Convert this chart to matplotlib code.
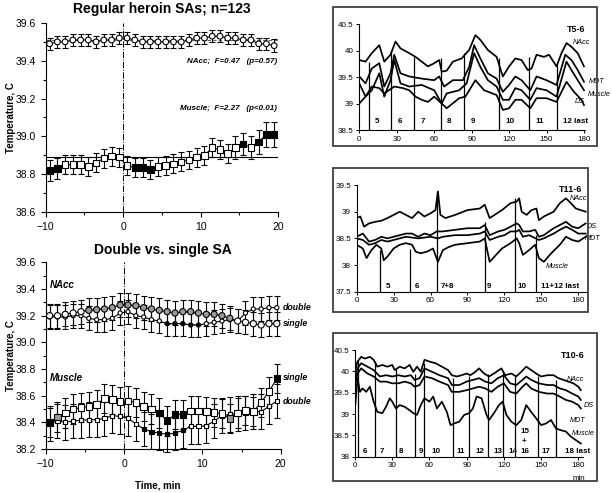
import matplotlib
matplotlib.use('Agg')
import matplotlib.pyplot as plt
from matplotlib.patches import Rectangle
import numpy as np

plt.rcParams['font.family'] = 'sans-serif'
plt.rcParams['font.sans-serif'] = ['Liberation Sans', 'DejaVu Sans']

# ---------------- left panels: mean +/- SEM around each SA ----------------
t_min = np.arange(-9.5, 20.0, 1.0)

# Regular heroin SAs; n=123
top_nacc = [39.49, 39.50, 39.50, 39.51, 39.51, 39.51, 39.50, 39.51, 39.51, 39.52,
            39.52, 39.51, 39.50, 39.50, 39.50, 39.50, 39.50, 39.50, 39.51, 39.52,
            39.52, 39.53, 39.53, 39.52, 39.52, 39.51, 39.51, 39.49, 39.49, 39.48]
top_nacc_err = 0.033
top_muscle = [38.82, 38.83, 38.85, 38.85, 38.85, 38.84, 38.86, 38.885, 38.895, 38.89,
              38.845, 38.835, 38.835, 38.825, 38.84, 38.845, 38.855, 38.865, 38.875, 38.89,
              38.90, 38.94, 38.93, 38.91, 38.94, 38.96, 38.94, 38.97, 39.01, 39.01]
top_muscle_err = [0.055, 0.055, 0.05, 0.05, 0.05, 0.05, 0.05, 0.05, 0.05, 0.05,
                  0.05, 0.05, 0.05, 0.05, 0.05, 0.05, 0.05, 0.05, 0.05, 0.05,
                  0.05, 0.05, 0.05, 0.05, 0.06, 0.06, 0.06, 0.065, 0.065, 0.065]
top_muscle_sig = [1, 1, 0, 0, 0, 0, 0, 0, 0, 0, 0, 1, 1, 1, 0,
                  0, 0, 0, 0, 0, 0, 0, 0, 0, 0, 1, 0, 1, 1, 1]
base_nacc = 39.51
base_muscle = 38.89

# Double vs. single SA  (0 = open, 1 = black, 2 = grey)
nacc_single = [39.20, 39.20, 39.21, 39.22, 39.23, 39.24, 39.245, 39.25, 39.26, 39.28,
               39.28, 39.275, 39.26, 39.25, 39.24, 39.23, 39.22, 39.23, 39.23, 39.22,
               39.21, 39.21, 39.20, 39.18, 39.16, 39.15, 39.14, 39.13, 39.14, 39.14]
nacc_single_sig = [0, 0, 0, 0, 0, 2, 2, 2, 2, 2, 2, 2, 2, 2, 2,
                   2, 2, 2, 2, 2, 2, 2, 2, 2, 0, 0, 0, 0, 0, 0]
nacc_double = [39.19, 39.19, 39.19, 39.20, 39.20, 39.18, 39.17, 39.17, 39.18, 39.22,
               39.23, 39.20, 39.19, 39.17, 39.16, 39.14, 39.14, 39.14, 39.13, 39.13,
               39.14, 39.15, 39.16, 39.17, 39.16, 39.22, 39.25, 39.25, 39.26, 39.26]
nacc_double_sig = [0, 0, 0, 0, 0, 0, 0, 0, 0, 0, 0, 0, 0, 0, 0,
                   1, 1, 1, 1, 1, 0, 0, 0, 0, 0, 0, 0, 0, 0, 0]
muscle_single = [38.40, 38.44, 38.47, 38.50, 38.51, 38.52, 38.535, 38.58, 38.57, 38.555,
                 38.56, 38.55, 38.52, 38.50, 38.47, 38.41, 38.46, 38.46, 38.485, 38.485,
                 38.48, 38.475, 38.465, 38.43, 38.47, 38.49, 38.48, 38.55, 38.63, 38.73]
muscle_single_sig = [1, 2, 0, 0, 0, 0, 0, 0, 0, 0, 0, 0, 0, 0, 1,
                     1, 1, 1, 0, 0, 0, 0, 0, 2, 0, 0, 0, 0, 0, 1]
muscle_double = [38.39, 38.41, 38.40, 38.41, 38.415, 38.42, 38.42, 38.43, 38.45, 38.445,
                 38.43, 38.39, 38.35, 38.33, 38.32, 38.31, 38.32, 38.34, 38.37, 38.37,
                 38.375, 38.41, 38.45, 38.46, 38.465, 38.47, 38.48, 38.48, 38.52, 38.56]
muscle_double_sig = [0, 0, 0, 0, 0, 0, 0, 0, 0, 0, 0, 0, 1, 1, 1,
                     1, 1, 1, 0, 0, 0, 0, 0, 0, 0, 0, 0, 0, 0, 0]
nacc_err = 0.09
muscle_single_err = 0.11
muscle_double_err = 0.13

# ---------------- right panels: individual rats ----------------
t5_nacc_t = [0, 5, 10, 16, 20, 25, 29, 33, 40, 45, 50, 55, 60, 64, 66, 70, 75, 82, 88, 93,
             97, 103, 110, 115, 120, 125, 130, 135, 138, 142, 148, 152, 158, 162, 166, 170, 175, 180]
t5_nacc_v = [39.82, 39.79, 39.95, 40.10, 39.79, 39.92, 40.17, 40.04, 39.95, 39.88, 39.79, 39.70,
             39.76, 39.82, 39.60, 39.62, 39.79, 39.85, 40.01, 40.29, 40.20, 40.01, 39.88, 39.51,
             39.70, 39.85, 39.82, 39.63, 39.66, 39.92, 39.88, 39.92, 39.70, 39.95, 40.14, 40.07,
             39.95, 39.70]
t5_mdt_t = [0, 5, 10, 16, 20, 25, 28, 33, 40, 50, 60, 64, 68, 75, 83, 88, 92, 97, 103, 110,
            115, 120, 125, 130, 137, 142, 150, 158, 165, 170, 175, 180]
t5_mdt_v = [39.51, 39.38, 39.66, 39.76, 39.32, 39.57, 39.92, 39.57, 39.51, 39.47, 39.44, 39.51,
            39.32, 39.44, 39.44, 39.69, 40.10, 39.85, 39.57, 39.47, 39.22, 39.35, 39.51, 39.44,
            39.25, 39.51, 39.44, 39.35, 39.92, 39.82, 39.63, 39.41]
t5_mus_t = [0, 5, 10, 16, 20, 25, 28, 33, 40, 50, 60, 66, 70, 80, 86, 92, 97, 103, 110, 115,
            120, 125, 130, 137, 142, 150, 158, 166, 170, 175, 180]
t5_mus_v = [39.38, 39.13, 39.25, 39.57, 39.13, 39.44, 39.82, 39.38, 39.32, 39.35, 39.25, 39.00,
            39.19, 39.25, 39.38, 39.95, 39.69, 39.44, 39.32, 39.07, 39.07, 39.29, 39.25, 39.07,
            39.29, 39.25, 39.13, 39.79, 39.63, 39.44, 39.25]
t5_ds_t = [0, 5, 10, 16, 20, 28, 35, 40, 45, 50, 55, 60, 66, 70, 80, 85, 93, 100, 110, 115,
           120, 125, 130, 137, 142, 150, 158, 166, 172, 178, 180]
t5_ds_v = [39.00, 39.13, 39.32, 39.29, 39.19, 39.32, 39.29, 39.25, 39.13, 39.07, 39.03, 39.13,
           39.00, 38.91, 39.10, 39.13, 39.44, 39.25, 39.16, 38.88, 38.91, 39.07, 39.07, 38.91,
           39.10, 39.10, 39.03, 39.41, 39.22, 39.07, 38.97]
t5_inj_t = [8, 25.4, 44, 65.4, 84, 112, 136, 158]
t5_inj_top = [39.79, 40.0, 39.88, 39.85, 39.95, 39.85, 39.88, 39.75]
t5_lab_t = [12.5, 30.5, 49, 70, 89, 117, 141, 163]
t5_labels = ['5', '6', '7', '8', '9', '10', '11', '12 last']

t11_nacc_t = [0, 3, 6, 10, 15, 20, 25, 30, 35, 40, 45, 50, 55, 60, 64, 66, 68, 72, 80, 90, 100,
              104, 108, 112, 118, 125, 130, 132, 134, 138, 142, 146, 148, 152, 160, 165, 170,
              174, 178, 182, 186]
t11_nacc_v = [38.88, 38.91, 38.72, 38.78, 38.81, 38.83, 38.88, 38.94, 39.00, 38.94, 38.88, 39.00,
              38.91, 38.97, 39.03, 39.38, 38.94, 38.88, 38.94, 39.03, 39.06, 39.13, 38.88, 38.94,
              39.03, 39.16, 39.19, 39.25, 39.00, 38.94, 39.03, 39.06, 38.84, 38.91, 39.00, 39.16,
              39.25, 39.16, 39.06, 39.03, 39.00]
t11_ds_t = [0, 5, 10, 15, 20, 25, 30, 35, 40, 45, 50, 55, 60, 65, 70, 80, 90, 100, 104, 108, 115,
            120, 125, 130, 132, 135, 140, 145, 148, 152, 160, 165, 170, 175, 180, 186]
t11_ds_v = [38.53, 38.59, 38.44, 38.47, 38.53, 38.50, 38.53, 38.56, 38.59, 38.59, 38.53, 38.59,
            38.56, 38.63, 38.63, 38.66, 38.69, 38.69, 38.75, 38.56, 38.63, 38.66, 38.72, 38.78,
            38.75, 38.63, 38.63, 38.66, 38.53, 38.56, 38.69, 38.75, 38.81, 38.72, 38.69, 38.78]
t11_mdt_t = [0, 5, 10, 15, 20, 25, 30, 40, 50, 60, 66, 70, 80, 90, 100, 104, 108, 115, 120, 125,
             130, 132, 135, 140, 148, 152, 160, 165, 170, 175, 180, 186]
t11_mdt_v = [38.50, 38.47, 38.38, 38.41, 38.47, 38.44, 38.47, 38.53, 38.50, 38.53, 38.50, 38.53,
             38.56, 38.56, 38.59, 38.63, 38.47, 38.53, 38.56, 38.63, 38.63, 38.66, 38.53, 38.56,
             38.47, 38.50, 38.59, 38.66, 38.72, 38.66, 38.59, 38.59]
t11_mus_t = [0, 5, 8, 12, 16, 20, 22, 25, 30, 35, 40, 45, 48, 52, 57, 62, 66, 70, 75, 80, 90, 100,
             104, 108, 112, 118, 125, 130, 132, 135, 140, 145, 148, 152, 158, 165, 170, 175, 180, 186]
t11_mus_v = [38.38, 38.31, 38.13, 38.28, 38.38, 38.31, 38.09, 38.16, 38.31, 38.38, 38.41, 38.38,
             38.25, 38.22, 38.25, 38.31, 38.06, 38.28, 38.34, 38.38, 38.41, 38.44, 38.50, 38.06,
             38.16, 38.31, 38.41, 38.50, 38.41, 38.19, 38.28, 38.38, 38.13, 38.06, 38.22, 38.38,
             38.53, 38.47, 38.44, 38.53]
t11_inj_t = [19, 43.3, 65.5, 104, 129, 146]
t11_inj_top = [38.28, 38.31, 39.37, 38.81, 39.25, 38.56]
t11_lab_t = [24, 47, 68, 105.6, 131, 150]
t11_labels = ['5', '6', '7+8', '9', '10', '11+12 last']

t10_nacc_t = [0, 2, 5, 8, 12, 15, 18, 22, 26, 30, 32, 36, 40, 44, 47, 50, 53, 56, 60, 65, 70, 75,
              78, 82, 86, 90, 93, 97, 100, 104, 108, 112, 118, 121, 126, 130, 134, 138, 142, 146,
              150, 155, 160, 164, 168, 172, 176, 180, 182]
t10_nacc_v = [39.99, 40.23, 40.34, 40.30, 40.34, 40.27, 40.11, 40.15, 40.11, 40.15, 40.03, 40.11,
              40.07, 40.15, 39.99, 40.11, 39.99, 40.27, 40.23, 40.19, 40.11, 40.03, 39.91, 39.88,
              39.91, 39.95, 39.91, 39.99, 40.07, 39.95, 39.88, 39.95, 40.07, 39.91, 39.95, 39.88,
              39.99, 40.11, 40.03, 39.95, 39.88, 39.91, 39.91, 39.84, 39.80, 39.76, 39.72, 39.64,
              39.56]
t10_ds_t = [0, 2, 5, 10, 15, 20, 25, 30, 35, 40, 45, 48, 52, 56, 62, 68, 75, 78, 84, 90, 95, 100,
            105, 110, 115, 120, 125, 130, 135, 138, 142, 148, 155, 160, 165, 170, 175, 180, 182]
t10_ds_v = [39.84, 40.07, 40.19, 40.11, 40.03, 39.88, 39.91, 39.88, 39.91, 39.88, 39.91, 39.80,
            39.84, 40.07, 39.99, 39.91, 39.84, 39.68, 39.68, 39.76, 39.80, 39.84, 39.76, 39.72,
            39.84, 39.91, 39.72, 39.68, 39.80, 39.88, 39.80, 39.72, 39.68, 39.68, 39.60, 39.56,
            39.48, 39.41, 39.33]
t10_mdt_t = t10_ds_t
t10_mdt_v = [39.68, 39.95, 40.07, 39.95, 39.88, 39.76, 39.76, 39.72, 39.72, 39.76, 39.72, 39.64,
             39.68, 39.88, 39.84, 39.76, 39.68, 39.52, 39.52, 39.56, 39.60, 39.64, 39.60, 39.52,
             39.64, 39.72, 39.52, 39.48, 39.64, 39.72, 39.60, 39.52, 39.48, 39.48, 39.41, 39.33,
             39.29, 39.21, 39.13]
t10_mus_t = [0, 2, 4, 6, 9, 12, 15, 18, 22, 25, 28, 30, 33, 36, 40, 44, 47, 50, 53, 56, 60, 63,
             66, 70, 74, 77, 80, 84, 88, 92, 95, 98, 102, 106, 108, 112, 116, 119, 122, 126, 130,
             134, 138, 142, 146, 150, 154, 158, 162, 166, 170, 174, 178, 182]
t10_mus_v = [39.13, 39.84, 39.52, 39.60, 39.52, 39.64, 39.29, 39.05, 39.02, 39.17, 39.37, 39.29,
             39.13, 39.21, 39.17, 39.09, 39.02, 38.98, 39.21, 39.37, 39.29, 39.41, 39.13, 39.29,
             39.05, 38.74, 38.78, 38.82, 38.98, 39.02, 39.13, 39.41, 39.37, 38.98, 38.86, 39.02,
             39.21, 39.29, 38.98, 38.82, 38.74, 38.86, 39.21, 39.05, 38.90, 38.74, 38.78, 38.86,
             38.66, 38.62, 38.59, 38.47, 38.39, 38.31]
t10_inj_t = [2.7, 16.1, 32.8, 48.4, 55.6, 78.7, 92.2, 107.5, 119.6, 129, 147.8, 161.7]
t10_inj_top = [40.25, 40.25, 40.05, 39.95, 40.2, 39.85, 39.9, 39.95, 40.0, 39.9, 39.9, 39.8]
t10_lab_t = [5.9, 19.6, 35, 51, 61.8, 82, 97, 111.5, 123.6, 133, 150, 169]
t10_labels = ['6', '7', '8', '9', '10', '11', '12', '13', '14', '16', '17', '18 last']

fig = plt.figure(figsize=(6.12, 4.93), dpi=100)

facecol = {0: 'white', 1: 'black', 2: '0.6'}


def style_left(ax, ylo, yhi):
    ax.spines['top'].set_visible(False)
    ax.spines['right'].set_visible(False)
    ax.set_xlim(-10, 20)
    ax.set_ylim(ylo, yhi)
    ax.set_xticks([-10, 0, 10, 20])
    ax.set_xticks([-5, 5, 15], minor=True)
    ax.set_yticks(np.arange(ylo, yhi + 0.01, 0.2))
    ax.set_yticks(np.arange(ylo + 0.1, yhi, 0.2), minor=True)
    ax.yaxis.set_major_formatter(matplotlib.ticker.FormatStrFormatter('%.1f'))
    ax.tick_params(which='major', labelsize=7.5, length=3.5, width=0.8)
    ax.tick_params(which='minor', length=2, width=0.8)
    ax.axvline(0, color='k', lw=0.7, ls='-.')
    ax.set_ylabel('Temperature, C', fontsize=7, fontweight='bold')
    ax.yaxis.set_label_coords(-0.128, 0.5)


def series(ax, y, err, sig, marker, size):
    ax.errorbar(t_min, y, yerr=err, fmt='none', ecolor='k', elinewidth=0.8,
                capsize=2, capthick=0.8, clip_on=False, zorder=2)
    ax.plot(t_min, y, 'k-', lw=0.8, zorder=3, clip_on=False)
    ax.scatter(t_min, y, s=size, marker=marker, c=[facecol[s] for s in sig],
               edgecolors='k', linewidths=0.8, zorder=4, clip_on=False)


# plot 1: regular SAs
ax1 = fig.add_axes([0.0747, 0.570, 0.3796, 0.3834])
style_left(ax1, 38.6, 39.6)
ax1.plot([-10, 20], [base_nacc, base_nacc], color='0.4', lw=0.8, ls=(0, (3, 2)))
ax1.plot([-10, 20], [base_muscle, base_muscle], color='k', lw=0.8)
series(ax1, top_nacc, top_nacc_err, [0] * len(top_nacc), 'o', 17)
series(ax1, top_muscle, top_muscle_err, top_muscle_sig, 's', 22)
ax1.set_title('Regular heroin SAs; n=123', fontsize=10, fontweight='bold', pad=7)
ax1.text(19.9, 39.397, 'NAcc;  F=0.47   (p=0.57)', ha='right', va='center',
         fontsize=5.8, fontweight='bold', style='italic')
ax1.text(19.9, 39.145, 'Muscle;  F=2.27   (p<0.01)', ha='right', va='center',
         fontsize=5.8, fontweight='bold', style='italic')

# plot 2: double vs single
ax2 = fig.add_axes([0.0747, 0.0892, 0.384, 0.3787])
style_left(ax2, 38.2, 39.6)
series(ax2, nacc_double, nacc_err, nacc_double_sig, 'o', 9)
series(ax2, nacc_single, nacc_err, nacc_single_sig, 'o', 20)
series(ax2, muscle_double, muscle_double_err, muscle_double_sig, 's', 9)
series(ax2, muscle_single, muscle_single_err, muscle_single_sig, 's', 22)
ax2.set_title('Double vs. single SA', fontsize=10, fontweight='bold', pad=6)
fig.text(0.258, 1 - 485.0 / 493, 'Time, min', fontsize=7, fontweight='bold',
         ha='center', va='center')
ax2.text(-9.45, 39.43, 'NAcc', fontsize=7, fontweight='bold', style='italic', va='center')
ax2.text(-9.5, 38.735, 'Muscle', fontsize=7, fontweight='bold', style='italic', va='center')
for yy, lab in [(39.26, 'double'), (39.14, 'single'), (38.74, 'single'), (38.555, 'double')]:
    ax2.text(20.3, yy, lab, fontsize=6.3, fontweight='bold', style='italic', va='center')


def trace_panel(rect, frame, ylo, yhi, xhi, traces, inj_t, inj_top, lab_t, labels, lab_y,
                title, title_x, title_y):
    ax = fig.add_axes(rect)
    fig.patches.append(Rectangle(frame[:2], frame[2], frame[3], transform=fig.transFigure,
                                 fill=False, edgecolor='0.25', lw=1.3))
    ax.spines['top'].set_visible(False)
    ax.spines['right'].set_visible(False)
    ax.set_xlim(0, xhi)
    ax.set_ylim(ylo, yhi)
    ax.set_xticks(np.arange(0, 181, 30))
    ax.set_yticks(np.arange(ylo, yhi + 0.01, 0.5))
    ax.yaxis.set_major_formatter(matplotlib.ticker.FormatStrFormatter('%g'))
    ax.tick_params(labelsize=5.8, length=2, width=0.7, pad=2)
    for tt, vv in traces:
        ax.plot(tt, vv, 'k-', lw=1.25)
    ax.vlines(inj_t, ylo, inj_top, colors='k', lw=0.9)
    for tt, lab in zip(lab_t, labels):
        ax.text(tt, lab_y, lab, fontsize=5.8, fontweight='bold', ha='left', va='center')
    ax.text(title_x, title_y, title, fontsize=6.5, fontweight='bold', ha='right', va='center',
            clip_on=False)
    return ax


ax3 = trace_panel([0.5871, 0.7363, 0.3671 * 181 / 180, 0.2150], [0.544, 0.704, 0.431, 0.282],
                  38.5, 40.5, 181,
                  [(t5_nacc_t, t5_nacc_v), (t5_mdt_t, t5_mdt_v), (t5_mus_t, t5_mus_v), (t5_ds_t, t5_ds_v)],
                  t5_inj_t, t5_inj_top, t5_lab_t, t5_labels, 38.66, 'T5-6', 181, 40.4)
ax3.text(171, 40.15, 'NAcc', fontsize=5.2, style='italic', va='center')
ax3.text(184, 39.41, 'MDT', fontsize=5.2, style='italic', va='center')
ax3.text(183, 39.17, 'Muscle', fontsize=5.2, style='italic', va='center')
ax3.text(173, 39.03, 'DS', fontsize=5.2, style='italic', va='center')

ax4 = trace_panel([0.5828, 0.4083, 0.3762, 0.2164], [0.544, 0.367, 0.417, 0.292],
                  37.5, 39.5, 187,
                  [(t11_nacc_t, t11_nacc_v), (t11_ds_t, t11_ds_v), (t11_mdt_t, t11_mdt_v), (t11_mus_t, t11_mus_v)],
                  t11_inj_t, t11_inj_top, t11_lab_t, t11_labels, 37.6, 'T11-6', 183, 39.42)
ax4.text(172.7, 39.25, 'NAcc', fontsize=5.2, style='italic', va='center')
ax4.text(186.8, 38.73, 'DS', fontsize=5.2, style='italic', va='center')
ax4.text(185.4, 38.49, 'MDT', fontsize=5.2, style='italic', va='center')
ax4.text(154, 37.97, 'Muscle', fontsize=5.2, style='italic', va='center')

ax5 = trace_panel([0.5801, 0.0736, 0.373, 0.2164], [0.544, 0.024, 0.431, 0.300],
                  38.0, 40.5, 184,
                  [(t10_nacc_t, t10_nacc_v), (t10_ds_t, t10_ds_v), (t10_mdt_t, t10_mdt_v), (t10_mus_t, t10_mus_v)],
                  t10_inj_t, t10_inj_top, t10_lab_t, t10_labels, 38.12, 'T10-6', 185, 40.37)
ax5.text(133, 38.59, '15', fontsize=5.8, fontweight='bold', va='center')
ax5.text(134, 38.35, '+', fontsize=5.8, fontweight='bold', va='center')
ax5.text(171, 39.82, 'NAcc', fontsize=5.2, style='italic', va='center')
ax5.text(184, 39.19, 'DS', fontsize=5.2, style='italic', va='center')
ax5.text(173, 38.86, 'MDT', fontsize=5.2, style='italic', va='center')
ax5.text(174.6, 38.55, 'Muscle', fontsize=5.2, style='italic', va='center')
ax5.text(180.5, 37.48, 'min', fontsize=5.8, ha='center', va='center', clip_on=False)

plt.savefig('out.png', dpi=100)
